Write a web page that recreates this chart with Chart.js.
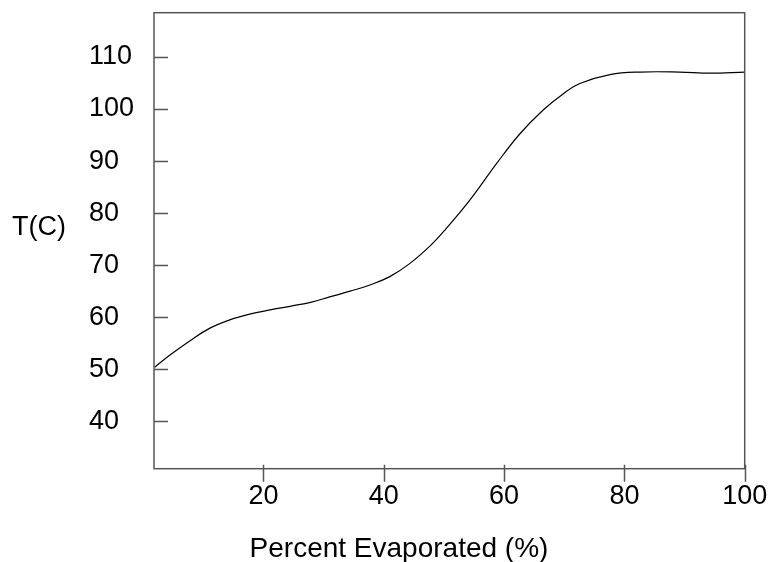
<!DOCTYPE html>
<html>
<head>
<meta charset="utf-8">
<script src="https://cdn.jsdelivr.net/npm/chart.js@4.4.1/dist/chart.umd.min.js"></script>
<style>
  html,body{margin:0;padding:0;background:#fff;}
  #wrap{width:770px;height:562px;}
</style>
</head>
<body>
<div id="wrap"><canvas id="distChart" width="770" height="562"></canvas></div>
<script>
/* ── DATA ── */
var pctEvap = [1.9, 4.4, 7.8, 11.1, 14.4, 17.7, 21.1, 24.4, 28.0, 31.0, 34.4, 37.7, 41.0, 44.3, 47.7, 50.2, 54.3, 58.8, 62.6, 66.5, 69.8, 72.6, 77.6, 82.6, 89.2, 94.2, 100];
var tempC   = [50.4, 52.7, 55.5, 57.9, 59.5, 60.6, 61.4, 62.1, 62.9, 63.9, 65.0, 66.2, 67.8, 70.3, 73.7, 76.8, 82.5, 89.6, 95.2, 99.8, 102.9, 104.9, 106.6, 107.1, 107.1, 106.9, 107.1];
var xTicks  = [20, 40, 60, 80, 100];
var yTicks  = [40, 50, 60, 70, 80, 90, 100, 110];
var xTitle  = 'Percent Evaporated (%)';
var yTitle  = 'T(C)';

var FONT = '"Liberation Sans", Arial, sans-serif';
var pts = pctEvap.map(function(v, i){ return {x: v, y: tempC[i]}; });

/* ── FRAME + INNER TICK MARKS + AXIS TITLES ── */
var frame = {
  id: 'frame',
  afterDatasetsDraw: function(chart){
    var ctx = chart.ctx, a = chart.chartArea, x = chart.scales.x, y = chart.scales.y;
    ctx.save();
    ctx.strokeStyle = '#555'; ctx.lineWidth = 1.5;
    ctx.strokeRect(a.left, a.top, a.right - a.left, a.bottom - a.top);
    ctx.beginPath();
    y.ticks.forEach(function(t){ var py = Math.round(y.getPixelForValue(t.value)) + .5; ctx.moveTo(a.left, py); ctx.lineTo(a.left + 14, py); });
    x.ticks.forEach(function(t){ var px = Math.round(x.getPixelForValue(t.value)) + .5; ctx.moveTo(px, a.bottom - 4); ctx.lineTo(px, a.bottom + 13); });
    ctx.stroke();
    ctx.fillStyle = '#000';
    ctx.textBaseline = 'middle';
    ctx.font = '27px ' + FONT; ctx.textAlign = 'left';
    ctx.fillText(yTitle, 12, 228);
    ctx.font = '28px ' + FONT; ctx.textAlign = 'center';
    ctx.fillText(xTitle, 399, 549);
    ctx.restore();
  }
};

new Chart(document.getElementById('distChart').getContext('2d'), {
  type: 'scatter',
  data: { datasets: [{ data: pts, showLine: true, borderColor: '#000', borderWidth: 1.2, pointRadius: 0, tension: 0.4, fill: false }] },
  options: {
    responsive: false, animation: false, devicePixelRatio: 1,
    layout: { padding: { left: 89, top: 12.7, right: 25.3, bottom: 0 } },
    plugins: { legend: { display: false }, tooltip: { enabled: false } },
    scales: {
      x: {
        type: 'linear', min: 1.8, max: 100,
        afterBuildTicks: function(s){ s.ticks = xTicks.map(function(v){ return {value: v}; }); },
        afterFit: function(s){ s.height = 93.3; s.paddingLeft = 0; s.paddingRight = 0; },
        grid: { display: false, drawTicks: false },
        border: { display: false },
        ticks: { color: '#000', font: { size: 27, family: FONT }, padding: 12, maxRotation: 0 }
      },
      y: {
        type: 'linear', min: 30.9, max: 118.5,
        afterBuildTicks: function(s){ s.ticks = yTicks.map(function(v){ return {value: v}; }); },
        afterFit: function(s){ s.width = 65; s.paddingTop = 0; s.paddingBottom = 0; },
        grid: { display: false, drawTicks: false },
        border: { display: false },
        ticks: { color: '#000', font: { size: 27, family: FONT }, crossAlign: 'far', padding: 0 }
      }
    }
  },
  plugins: [frame]
});
</script>
</body>
</html>
